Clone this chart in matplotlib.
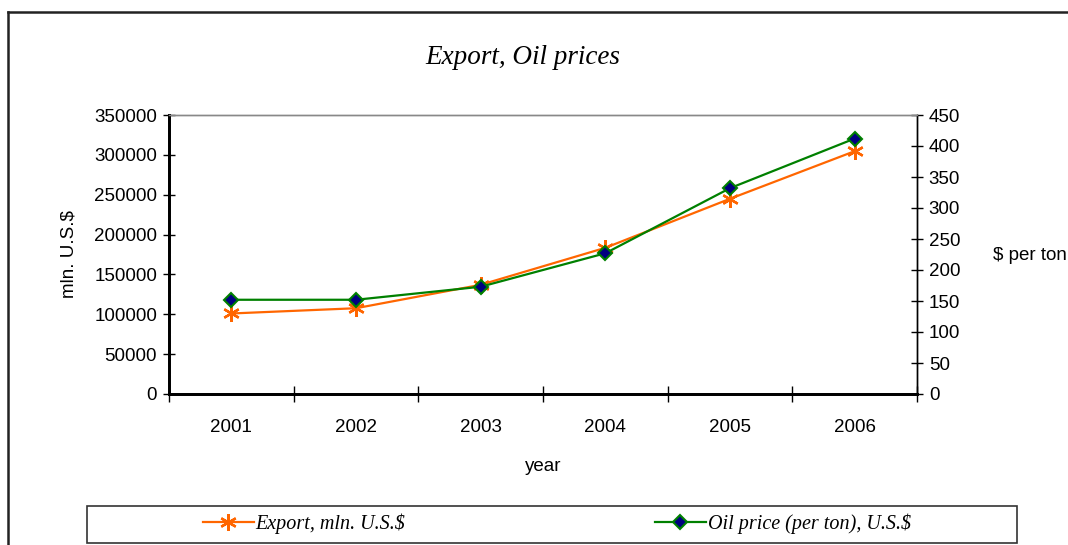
import numpy as np
import matplotlib
matplotlib.use("Agg")
import matplotlib.pyplot as plt
from matplotlib.patches import Rectangle
from matplotlib.lines import Line2D

years = ["2001", "2002", "2003", "2004", "2005", "2006"]
export_mln = [101000, 107600, 137000, 183400, 244900, 304600]
oil_price = [152, 152, 173, 227, 332, 412]

ORANGE, GREEN, NAVY = "#FF6600", "#008000", "#000080"
SANS, SERIF = "Liberation Sans", "Liberation Serif"

W, H = 1068, 545
fig = plt.figure(figsize=(W / 100, H / 100), dpi=100)
fig.patch.set_facecolor("white")

ax = fig.add_axes([169 / W, 1 - 394 / H, (917 - 169) / W, (394 - 115) / H])
ax2 = ax.twinx()

x = np.arange(len(years))
ax.plot(x, export_mln, "-", color=ORANGE, lw=1.6, marker=(6, 2, 0), ms=12,
        mec=ORANGE, mew=1.7, zorder=3)
ax2.plot(x, oil_price, "-", color=GREEN, lw=1.6, marker="D", ms=7,
         mfc=NAVY, mec=GREEN, mew=1.5, zorder=3)

ax.set_xlim(-0.5, len(years) - 0.5)
ax.set_ylim(0, 350000)
ax2.set_ylim(0, 450)
ax.set_yticks(np.arange(0, 350001, 50000))
ax2.set_yticks(np.arange(0, 451, 50))

# category ticks sit between categories, labels centred
ax.set_xticks(np.arange(-0.5, len(years), 1.0))
ax.set_xticklabels([])
ax.set_xticks(x, minor=True)
ax.set_xticklabels(years, minor=True)
ax.tick_params(axis="x", which="minor", length=0, pad=18, labelsize=13.5)
ax.tick_params(axis="x", which="major", direction="inout", length=12, width=1)
ax.tick_params(axis="y", direction="inout", length=9, width=1, labelsize=13.5, pad=4)
ax2.tick_params(axis="y", direction="inout", length=9, width=1, labelsize=13.5, pad=4)
for lab in ax.get_xticklabels(minor=True) + ax.get_yticklabels() + ax2.get_yticklabels():
    lab.set_fontfamily(SANS)

for a in (ax, ax2):
    a.spines["left"].set_linewidth(2)
    a.spines["bottom"].set_linewidth(2)
    a.spines["right"].set_linewidth(1)
    a.spines["top"].set_color("#888888")
    a.spines["top"].set_linewidth(1)

ax.set_ylabel("mln. U.S.$", fontfamily=SANS, fontsize=13.5, labelpad=12)
ax.set_xlabel("year", fontfamily=SANS, fontsize=13.5, labelpad=16)
fig.text(1030 / W, 1 - 256 / H, "$ per ton", fontfamily=SANS, fontsize=13.5,
         ha="center", va="center")
fig.text(523 / W, 1 - 58 / H, "Export, Oil prices", fontfamily=SERIF,
         style="italic", fontsize=19.5, ha="center", va="center")

# outer chart border (clipped by the page)
fig.add_artist(Line2D([8 / W, 8 / W], [0, 1 - 12 / H], color="#222222", lw=1.8))
fig.add_artist(Line2D([8 / W, 1], [1 - 12 / H, 1 - 12 / H], color="#222222", lw=1.8))

# legend box
fig.add_artist(Rectangle((87 / W, 2 / H), (1017 - 87) / W, 37 / H, transform=fig.transFigure,
                         fill=False, ec="#333333", lw=1.2))
handles = [
    Line2D([], [], color=ORANGE, lw=1.6, marker=(6, 2, 0), ms=12, mec=ORANGE, mew=1.7),
    Line2D([], [], color=GREEN, lw=1.6, marker="D", ms=7, mfc=NAVY, mec=GREEN, mew=1.5),
]
fig.legend(handles, ["Export, mln. U.S.$", "Oil price (per ton), U.S.$"],
           loc="center", bbox_to_anchor=(557 / W, 21 / H), ncol=2, frameon=False,
           prop={"family": SERIF, "style": "italic", "size": 14.5},
           handlelength=2.5, handletextpad=0.1, columnspacing=12.4)

fig.savefig("out.png", dpi=100)
